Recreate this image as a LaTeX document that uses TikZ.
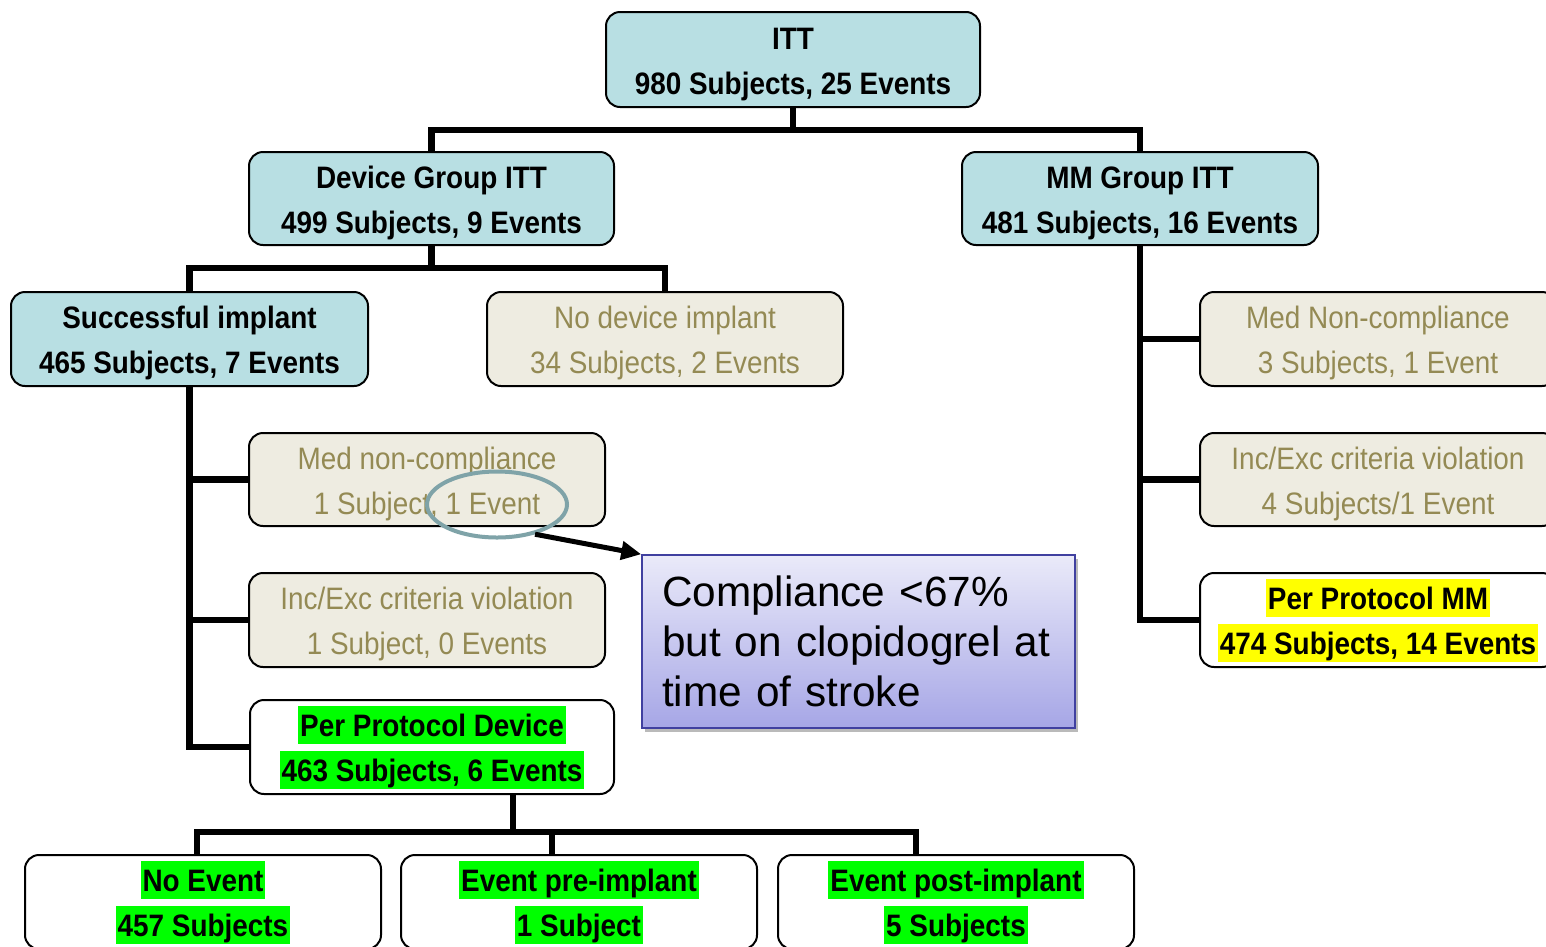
\documentclass[tikz,border=0pt]{standalone}
\usepackage{fontspec}
\setmainfont{Liberation Sans}
\newfontfamily\condfont[FakeStretch=0.9]{Liberation Sans}
\usetikzlibrary{arrows.meta,shapes.geometric,shadows}

\definecolor{cyanfill}{RGB}{184,223,227}
\definecolor{beigefill}{RGB}{238,236,225}
\definecolor{olivetext}{RGB}{148,138,84}
\definecolor{hlgreen}{RGB}{0,255,0}
\definecolor{hlyellow}{RGB}{255,255,0}
\definecolor{ringcol}{RGB}{127,163,168}
\definecolor{calltop}{RGB}{234,234,249}
\definecolor{callbot}{RGB}{166,166,230}
\definecolor{callborder}{RGB}{64,64,160}

% fixed line height for box labels
\newcommand\linestrut{\rule[-7pt]{0pt}{38pt}}
% two-line label
\newcommand\twolines[2]{\linestrut#1\\\linestrut#2}
% highlighted text line
\newcommand\hlline[2]{{\setlength{\fboxsep}{0pt}\colorbox{#1}{\linestrut\kern2pt#2\kern2pt}}}

\tikzset{
  box/.style={draw=black, line width=2pt, rounded corners=14pt,
    minimum width=356pt, minimum height=94pt, inner sep=0pt, align=center},
  main/.style={box, fill=cyanfill, font=\condfont\bfseries\fontsize{31}{45}\selectfont},
  minor/.style={box, fill=beigefill, text=olivetext, font=\condfont\fontsize{31}{45}\selectfont},
  pp/.style={box, fill=white, font=\condfont\bfseries\fontsize{31}{45}\selectfont},
  conn/.style={line width=6.5pt, line join=miter, line cap=butt},
  callout/.style={draw=callborder, line width=1.5pt, top color=calltop, bottom color=callbot,
    minimum width=433pt, minimum height=173pt, text width=393pt, inner xsep=20pt,
    align=left, font=\fontsize{42.3}{50}\selectfont,
    drop shadow={shadow xshift=3pt, shadow yshift=-4pt, fill=black!45, opacity=0.6}},
  ringstyle/.style={draw=ringcol, line width=4pt, ellipse, minimum width=140pt,
    minimum height=66pt, inner sep=0pt},
  pointer/.style={line width=5pt, -{Triangle[length=20pt,width=18pt]}}
}

\begin{document}
\begin{tikzpicture}[x=1pt, y=-1pt]
\clip (0,0) rectangle (1546,946);
\fill[white] (0,0) rectangle (1546,946);

% top levels
\node[main, minimum width=374pt, minimum height=95pt] (itt) at (793,59.5) {\twolines{ITT}{980 Subjects, 25 Events}};
\node[main, minimum width=365pt, minimum height=93pt] (devitt) at (431.5,198.5) {\twolines{Device Group ITT}{499 Subjects, 9 Events}};
\node[main, minimum height=93pt] (mmitt) at (1140,198.5) {\twolines{MM Group ITT}{481 Subjects, 16 Events}};

% device arm
\node[main, minimum width=357pt] (succ) at (189.5,339) {\twolines{Successful implant}{465 Subjects, 7 Events}};
\node[minor] (nodev) at (665,339) {\twolines{No device implant}{34 Subjects, 2 Events}};
\node[minor, minimum height=93pt] (medl) at (427,479.5) {\twolines{Med non-compliance}{1 Subject, 1 Event}};
\node[minor] (incl) at (427,620) {\twolines{Inc/Exc criteria violation}{1 Subject, 0 Events}};
\node[pp, minimum width=364pt] (ppd) at (432,747) {\hlline{hlgreen}{Per Protocol Device}\\\hlline{hlgreen}{463 Subjects, 6 Events}};

% medical management arm
\node[minor] (medr) at (1378,339) {\twolines{Med Non-compliance}{3 Subjects, 1 Event}};
\node[minor, minimum height=93pt] (incr) at (1378,479.5) {\twolines{Inc/Exc criteria violation}{4 Subjects/1 Event}};
\node[pp] (ppmm) at (1378,620) {\hlline{hlyellow}{Per Protocol MM}\\\hlline{hlyellow}{474 Subjects, 14 Events}};

% per protocol device outcomes
\node[pp] (noev) at (203,902) {\hlline{hlgreen}{No Event}\\\hlline{hlgreen}{457 Subjects}};
\node[pp] (pre) at (579,902) {\hlline{hlgreen}{Event pre-implant}\\\hlline{hlgreen}{1 Subject}};
\node[pp] (post) at (956,902) {\hlline{hlgreen}{Event post-implant}\\\hlline{hlgreen}{5 Subjects}};

% tree connectors
\coordinate (busA) at (793,130);
\draw[conn] (itt.south) -- (busA);
\draw[conn] (devitt.north) |- (busA) -| (mmitt.north);

\coordinate (busB) at (431.5,268);
\draw[conn] (devitt.south) -- (busB);
\draw[conn] (succ.north) |- (busB) -| (nodev.north);

\draw[conn] (succ.south) |- (ppd.west);
\draw[conn] (succ.south |- medl.west) -- (medl.west);
\draw[conn] (succ.south |- incl.west) -- (incl.west);

\draw[conn] (mmitt.south) |- (ppmm.west);
\draw[conn] (mmitt.south |- medr.west) -- (medr.west);
\draw[conn] (mmitt.south |- incr.west) -- (incr.west);

\coordinate (ppdtap) at (513,794);
\coordinate (busC) at (513,832);
\coordinate (legA) at (197,832);
\coordinate (legB) at (552,832);
\coordinate (legC) at (916,832);
\draw[conn] (ppdtap) -- (busC);
\draw[conn] (legA |- noev.north) -- (legA) -- (legC) -- (legC |- post.north);
\draw[conn] (legB) -- (legB |- pre.north);

% annotation
\node[callout] (note) at (858.5,641.5) {Compliance <67\%\\but on clopidogrel at\\time of stroke};
\node[ringstyle] (ring) at (497,504.5) {};
\draw[pointer] (ring.-38) -- (note.north west);
\end{tikzpicture}
\end{document}
